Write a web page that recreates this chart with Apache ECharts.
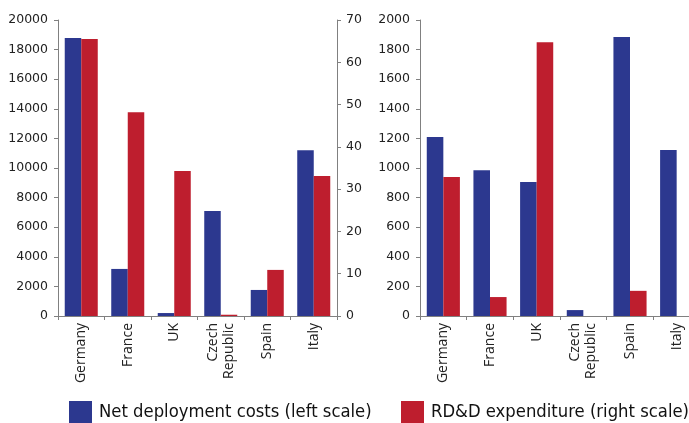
<!DOCTYPE html>
<html>
<head>
<meta charset="utf-8">
<script src="https://cdn.jsdelivr.net/npm/echarts@6/dist/echarts.min.js"></script>
<style>
html,body{margin:0;padding:0;background:#fff;overflow:hidden;}
#chart{width:689px;height:423px;}
</style>
</head>
<body>
<div id="chart"></div>
<script>
const categories = ['Germany', 'France', 'UK', 'Czech\nRepublic', 'Spain', 'Italy'];
const seriesNames = ['Net deployment costs (left scale)', 'RD&D expenditure (right scale)'];

// Left panel
const leftDeployment = [18780, 3180, 200, 7100, 1760, 11200];   // left scale
const leftRDD = [65.5, 48.2, 34.3, 0.3, 10.9, 33.1];            // right scale

// Right panel
const rightDeployment = [1210, 985, 905, 40, 1885, 1122];
const rightRDD = [940, 128, 1850, 0, 170, null];

const leftTicks = { min: 0, max: 20000, interval: 2000 };
const rightTicks = { min: 0, max: 70, interval: 10 };
const panel2Ticks = { min: 0, max: 2000, interval: 200 };

const BLUE = '#2C388F';
const RED = '#BE1E2E';
const AXIS = '#808080';
const TXT = '#222222';

const chart = echarts.init(document.getElementById('chart'), null, { renderer: 'canvas' });

const xAxisBase = {
  type: 'category',
  data: categories,
  axisLine: { lineStyle: { color: AXIS, width: 1 } },
  axisTick: { show: true, length: 4, lineStyle: { color: AXIS } },
  axisLabel: {
    interval: 0, rotate: 90, margin: 7, color: TXT,
    fontFamily: 'Open Sans', fontSize: 14, lineHeight: 16
  }
};

const yAxisBase = (o, pos, margin) => Object.assign({
  type: 'value',
  position: pos,
  splitLine: { show: false },
  axisLine: { show: true, lineStyle: { color: AXIS, width: 1 } },
  axisTick: { show: true, length: 4, lineStyle: { color: AXIS } },
  axisLabel: { margin: margin, color: TXT, fontFamily: 'DejaVu Sans', fontSize: 12.5,
    formatter: v => String(v) }
}, o);

const legendBase = {
  top: 401,
  padding: 0,
  itemWidth: 23, itemHeight: 22,
  icon: 'rect',
  textStyle: { fontFamily: '"DejaVu Sans Condensed", "DejaVu Sans"', fontSize: 18.3, color: '#111', padding: [0, 0, 0, 2] }
};

chart.setOption({
  animation: false,
  backgroundColor: '#fff',
  legend: [
    Object.assign({ data: [seriesNames[0]], left: 69 }, legendBase),
    Object.assign({ data: [seriesNames[1]], left: 401 }, legendBase)
  ],
  grid: [
    { left: 58, top: 20, width: 279, height: 296, outerBoundsMode: 'none' },
    { left: 420, top: 20, width: 280, height: 296, outerBoundsMode: 'none' }
  ],
  xAxis: [
    Object.assign({ gridIndex: 0 }, xAxisBase),
    Object.assign({ gridIndex: 1 }, xAxisBase)
  ],
  yAxis: [
    yAxisBase(Object.assign({ gridIndex: 0 }, leftTicks), 'left', 10),
    yAxisBase(Object.assign({ gridIndex: 0 }, rightTicks), 'right', 9),
    yAxisBase(Object.assign({ gridIndex: 1 }, panel2Ticks), 'left', 10)
  ],
  series: [
    { name: seriesNames[0], type: 'bar', xAxisIndex: 0, yAxisIndex: 0, data: leftDeployment,
      itemStyle: { color: BLUE }, barGap: '0%', barCategoryGap: '29%' },
    { name: seriesNames[1], type: 'bar', xAxisIndex: 0, yAxisIndex: 1, data: leftRDD,
      itemStyle: { color: RED }, barGap: '0%', barCategoryGap: '29%' },
    { name: seriesNames[0], type: 'bar', xAxisIndex: 1, yAxisIndex: 2, data: rightDeployment,
      itemStyle: { color: BLUE }, barGap: '0%', barCategoryGap: '29%' },
    { name: seriesNames[1], type: 'bar', xAxisIndex: 1, yAxisIndex: 2, data: rightRDD,
      itemStyle: { color: RED }, barGap: '0%', barCategoryGap: '29%' }
  ]
});
</script>
</body>
</html>
